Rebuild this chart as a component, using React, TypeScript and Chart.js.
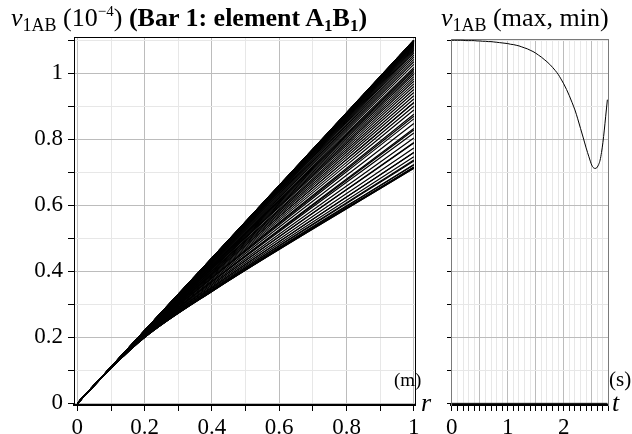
import React, { useEffect, useRef } from 'react';
import { Chart, registerables } from 'chart.js';

Chart.register(...registerables);

const FONT = "'Liberation Serif', 'Times New Roman', Times, serif";

// ---- Left panel: v1AB along the bar (r), one line per time step ----
const rGrid = [0, 0.1, 0.2, 0.4, 1];
const lineProfiles: number[][] = [
  [0, 0.110, 0.220, 0.440, 1.100],
  [0, 0.110, 0.220, 0.440, 1.100],
  [0, 0.110, 0.220, 0.440, 1.100],
  [0, 0.110, 0.220, 0.440, 1.100],
  [0, 0.110, 0.220, 0.440, 1.100],
  [0, 0.110, 0.220, 0.440, 1.099],
  [0, 0.110, 0.220, 0.440, 1.099],
  [0, 0.110, 0.220, 0.440, 1.099],
  [0, 0.110, 0.220, 0.440, 1.099],
  [0, 0.110, 0.220, 0.439, 1.098],
  [0, 0.110, 0.220, 0.439, 1.098],
  [0, 0.110, 0.220, 0.439, 1.097],
  [0, 0.110, 0.220, 0.439, 1.097],
  [0, 0.110, 0.220, 0.439, 1.096],
  [0, 0.110, 0.220, 0.439, 1.096],
  [0, 0.110, 0.220, 0.439, 1.095],
  [0, 0.110, 0.220, 0.438, 1.094],
  [0, 0.110, 0.220, 0.438, 1.093],
  [0, 0.110, 0.220, 0.438, 1.092],
  [0, 0.110, 0.220, 0.438, 1.091],
  [0, 0.110, 0.220, 0.437, 1.090],
  [0, 0.110, 0.219, 0.437, 1.088],
  [0, 0.110, 0.219, 0.437, 1.087],
  [0, 0.110, 0.219, 0.436, 1.085],
  [0, 0.110, 0.219, 0.436, 1.083],
  [0, 0.110, 0.219, 0.435, 1.080],
  [0, 0.110, 0.219, 0.434, 1.077],
  [0, 0.110, 0.219, 0.433, 1.074],
  [0, 0.110, 0.218, 0.432, 1.070],
  [0, 0.110, 0.218, 0.431, 1.066],
  [0, 0.110, 0.218, 0.430, 1.061],
  [0, 0.110, 0.218, 0.428, 1.055],
  [0, 0.110, 0.217, 0.427, 1.049],
  [0, 0.110, 0.217, 0.425, 1.042],
  [0, 0.109, 0.217, 0.423, 1.035],
  [0, 0.109, 0.216, 0.421, 1.027],
  [0, 0.109, 0.216, 0.419, 1.018],
  [0, 0.109, 0.215, 0.417, 1.013],
  [0, 0.109, 0.215, 0.416, 1.008],
  [0, 0.109, 0.215, 0.415, 1.003],
  [0, 0.109, 0.215, 0.413, 0.997],
  [0, 0.109, 0.214, 0.411, 0.990],
  [0, 0.109, 0.214, 0.409, 0.983],
  [0, 0.109, 0.214, 0.408, 0.976],
  [0, 0.109, 0.213, 0.406, 0.968],
  [0, 0.109, 0.213, 0.403, 0.960],
  [0, 0.109, 0.212, 0.401, 0.951],
  [0, 0.109, 0.212, 0.399, 0.942],
  [0, 0.109, 0.211, 0.396, 0.932],
  [0, 0.109, 0.211, 0.394, 0.922],
  [0, 0.109, 0.210, 0.391, 0.911],
  [0, 0.108, 0.210, 0.388, 0.900],
  [0, 0.108, 0.209, 0.385, 0.889],
  [0, 0.108, 0.208, 0.382, 0.876],
  [0, 0.108, 0.208, 0.378, 0.862],
  [0, 0.108, 0.207, 0.374, 0.848],
  [0, 0.108, 0.206, 0.370, 0.833],
  [0, 0.108, 0.205, 0.367, 0.819],
  [0, 0.108, 0.205, 0.363, 0.804],
  [0, 0.108, 0.204, 0.359, 0.789],
  [0, 0.107, 0.203, 0.355, 0.774],
  [0, 0.107, 0.202, 0.351, 0.760],
  [0, 0.107, 0.202, 0.348, 0.747],
  [0, 0.107, 0.201, 0.344, 0.734],
  [0, 0.107, 0.200, 0.341, 0.722],
  [0, 0.107, 0.200, 0.340, 0.715],
  [0, 0.107, 0.200, 0.339, 0.712],
  [0, 0.107, 0.200, 0.339, 0.712],
  [0, 0.107, 0.200, 0.340, 0.716],
  [0, 0.107, 0.200, 0.342, 0.724],
  [0, 0.107, 0.201, 0.345, 0.737],
  [0, 0.107, 0.202, 0.351, 0.760],
  [0, 0.108, 0.204, 0.359, 0.790],
  [0, 0.108, 0.206, 0.369, 0.828],
  [0, 0.108, 0.208, 0.380, 0.870],
  [0, 0.109, 0.210, 0.391, 0.912],
];

// ---- Right panel: max / min of v1AB over time t ----
const tValues = [
  0, 0.05, 0.1, 0.15, 0.2, 0.25, 0.3, 0.35, 0.4, 0.45, 0.5, 0.55, 0.6, 0.65, 0.7, 0.75,
  0.8, 0.85, 0.9, 0.95, 1.0, 1.05, 1.1, 1.15, 1.2, 1.25, 1.3, 1.35, 1.4, 1.45, 1.5, 1.55,
  1.6, 1.65, 1.7, 1.75, 1.8, 1.85, 1.9, 1.95, 2.0, 2.05, 2.1, 2.15, 2.2, 2.25, 2.3, 2.35,
  2.4, 2.45, 2.5, 2.525, 2.55, 2.575, 2.6, 2.625, 2.65, 2.675, 2.7, 2.725, 2.75, 2.78,
];
const maxValues = [
  1.100, 1.100, 1.100, 1.100, 1.100, 1.099, 1.099, 1.099, 1.099, 1.098, 1.098, 1.097, 1.097, 1.096, 1.096, 1.095,
  1.094, 1.093, 1.092, 1.091, 1.090, 1.088, 1.087, 1.085, 1.083, 1.080, 1.077, 1.074, 1.070, 1.066, 1.061, 1.055,
  1.049, 1.042, 1.035, 1.027, 1.018, 1.008, 0.997, 0.983, 0.968, 0.951, 0.932, 0.911, 0.889, 0.862, 0.833, 0.804,
  0.774, 0.747, 0.722, 0.715, 0.712, 0.712, 0.716, 0.724, 0.737, 0.760, 0.790, 0.828, 0.870, 0.920,
];
const minTimes = [0, 2.78];
const minValues = [0, 0];

// ---- Tick labels ----
const rTickLabels = ['0', '0.2', '0.4', '0.6', '0.8', '1'];
const vTickLabels = ['0', '0.2', '0.4', '0.6', '0.8', '1'];
const tTickLabels = ['0', '1', '2'];

const isMult = (v: number, step: number) => Math.abs(v / step - Math.round(v / step)) < 1e-6;

const MAJOR = '#bcbcbc';
const MINOR = '#e7e7e7';

function leftConfig(): any {
  return {
    type: 'line',
    data: {
      datasets: lineProfiles.map((p) => ({
        data: p.map((v, i) => ({ x: rGrid[i], y: v })),
        borderColor: '#000',
        borderWidth: 1.2,
        pointRadius: 0,
        cubicInterpolationMode: 'monotone',
        fill: false,
      })),
    },
    options: {
      animation: false,
      responsive: false,
      devicePixelRatio: 1,
      parsing: false,
      layout: { padding: { top: 37, right: 24.5, left: 0, bottom: 0 } },
      plugins: { legend: { display: false }, tooltip: { enabled: false }, title: { display: false } },
      scales: {
        x: {
          type: 'linear',
          position: 'bottom',
          min: -0.01,
          max: 1.005,
          ticks: {
            stepSize: 0.1,
            includeBounds: false,
            autoSkip: false,
            maxRotation: 0,
            padding: 3,
            color: '#000',
            font: { family: FONT, size: 23 },
            callback: (v: number) => (isMult(v, 0.2) ? rTickLabels[Math.round(v / 0.2)] : ''),
          },
          grid: {
            color: (ctx: any) => (ctx.tick && isMult(ctx.tick.value, 0.2) ? MAJOR : MINOR),
            tickColor: '#000',
            tickLength: 6,
            lineWidth: 1,
          },
          border: { color: '#000', width: 2 },
          afterFit: (s: any) => {
            s.height = 29;
          },
        },
        y: {
          type: 'linear',
          position: 'left',
          min: -0.005,
          max: 1.11,
          ticks: {
            stepSize: 0.1,
            includeBounds: false,
            autoSkip: false,
            padding: 5,
            color: '#000',
            font: { family: FONT, size: 23 },
            callback: (v: number) => (isMult(v, 0.2) ? vTickLabels[Math.round(v / 0.2)] : ''),
          },
          grid: {
            color: (ctx: any) => (ctx.tick && isMult(ctx.tick.value, 0.2) ? MAJOR : MINOR),
            tickColor: '#000',
            tickLength: 6,
            lineWidth: 1,
          },
          border: { color: '#000', width: 1 },
          afterFit: (s: any) => {
            s.width = 74;
          },
        },
        x2: {
          type: 'linear',
          position: 'top',
          min: -0.01,
          max: 1.005,
          grid: { display: false, drawTicks: false },
          ticks: { display: false },
          border: { color: '#000', width: 1 },
          afterFit: (s: any) => {
            s.height = 0;
          },
        },
        y2: {
          type: 'linear',
          position: 'right',
          min: -0.005,
          max: 1.11,
          grid: { display: false, drawTicks: false },
          ticks: { display: false },
          border: { color: '#000', width: 1 },
          afterFit: (s: any) => {
            s.width = 0;
          },
        },
      },
    },
  };
}

function rightConfig(): any {
  return {
    type: 'line',
    data: {
      datasets: [
        {
          label: 'max',
          data: tValues.map((t, i) => ({ x: t, y: maxValues[i] })),
          borderColor: '#000',
          borderWidth: 1,
          pointRadius: 0,
          cubicInterpolationMode: 'monotone',
          fill: false,
        },
        {
          label: 'min',
          data: minTimes.map((t, i) => ({ x: t, y: minValues[i] })),
          borderColor: '#000',
          borderWidth: 1,
          pointRadius: 0,
          tension: 0,
          fill: false,
        },
      ],
    },
    options: {
      animation: false,
      responsive: false,
      devicePixelRatio: 1,
      parsing: false,
      layout: { padding: { top: 39.3, right: 23.5, left: 0, bottom: 0 } },
      plugins: { legend: { display: false }, tooltip: { enabled: false }, title: { display: false } },
      scales: {
        x: {
          type: 'linear',
          position: 'bottom',
          min: -0.015,
          max: 2.8,
          ticks: {
            stepSize: 0.1,
            includeBounds: false,
            autoSkip: false,
            maxRotation: 0,
            padding: 3,
            color: '#000',
            font: { family: FONT, size: 23 },
            callback: (v: number) => (isMult(v, 1) ? tTickLabels[Math.round(v)] : ''),
          },
          grid: {
            color: (ctx: any) => (ctx.tick && isMult(ctx.tick.value, 0.5) ? MAJOR : MINOR),
            tickColor: '#000',
            tickLength: 6,
            lineWidth: 1,
          },
          border: { color: '#000', width: 2 },
          afterFit: (s: any) => {
            s.height = 29;
          },
        },
        y: {
          type: 'linear',
          position: 'left',
          min: -0.005,
          max: 1.103,
          ticks: {
            stepSize: 0.1,
            includeBounds: false,
            autoSkip: false,
            padding: 0,
            color: '#000',
            font: { family: FONT, size: 23 },
            callback: () => '',
          },
          grid: {
            color: (ctx: any) => (ctx.tick && isMult(ctx.tick.value, 0.2) ? MAJOR : MINOR),
            tickColor: '#000',
            tickLength: 4,
            lineWidth: 1,
          },
          border: { color: '#7a7a7a', width: 1 },
          afterFit: (s: any) => {
            s.width = 51;
          },
        },
        x2: {
          type: 'linear',
          position: 'top',
          min: -0.015,
          max: 2.8,
          grid: { display: false, drawTicks: false },
          ticks: { display: false },
          border: { color: '#7a7a7a', width: 1 },
          afterFit: (s: any) => {
            s.height = 0;
          },
        },
        y2: {
          type: 'linear',
          position: 'right',
          min: -0.005,
          max: 1.103,
          grid: { display: false, drawTicks: false },
          ticks: { display: false },
          border: { color: '#7a7a7a', width: 1 },
          afterFit: (s: any) => {
            s.width = 0;
          },
        },
      },
    },
  };
}

const sub = (size: number, drop: number): React.CSSProperties => ({
  fontSize: size,
  position: 'relative',
  top: drop,
});

export default function App() {
  const leftRef = useRef<HTMLCanvasElement>(null);
  const rightRef = useRef<HTMLCanvasElement>(null);

  useEffect(() => {
    const left = new Chart(leftRef.current as HTMLCanvasElement, leftConfig());
    const right = new Chart(rightRef.current as HTMLCanvasElement, rightConfig());
    return () => {
      left.destroy();
      right.destroy();
    };
  }, []);

  return (
    <div
      style={{
        position: 'fixed',
        left: 0,
        top: 0,
        width: 632,
        height: 434,
        overflow: 'hidden',
        background: '#fff',
        fontFamily: FONT,
        color: '#000',
      }}
    >
      <canvas
        ref={leftRef}
        width={440}
        height={434}
        style={{ position: 'absolute', left: 0, top: 0, display: 'block' }}
      />
      <canvas
        ref={rightRef}
        width={232}
        height={434}
        style={{ position: 'absolute', left: 400, top: 0, display: 'block' }}
      />
      {/* Left title */}
      <div
        style={{
          position: 'absolute',
          left: 11,
          top: 5,
          fontSize: 26,
          lineHeight: 1,
          whiteSpace: 'nowrap',
        }}
      >
        <i>v</i>
        <span style={sub(18, 5)}>1AB</span> (10<span style={sub(15, -10)}>−4</span>){' '}
        <b>
          (Bar 1: element A<span style={sub(17, 5)}>1</span>B<span style={sub(17, 5)}>1</span>)
        </b>
      </div>
      {/* Right title */}
      <div
        style={{
          position: 'absolute',
          left: 441,
          top: 5,
          fontSize: 26,
          lineHeight: 1,
          whiteSpace: 'nowrap',
        }}
      >
        <i>v</i>
        <span style={sub(18, 5)}>1AB</span> (max, min)
      </div>
      {/* Axis unit labels */}
      <div style={{ position: 'absolute', left: 394, top: 370, fontSize: 19, lineHeight: 1 }}>(m)</div>
      <div style={{ position: 'absolute', left: 421, top: 390, fontSize: 26, lineHeight: 1 }}>
        <i>r</i>
      </div>
      <div style={{ position: 'absolute', left: 609, top: 369, fontSize: 21, lineHeight: 1 }}>(s)</div>
      <div style={{ position: 'absolute', left: 612, top: 390, fontSize: 26, lineHeight: 1 }}>
        <i>t</i>
      </div>
    </div>
  );
}
